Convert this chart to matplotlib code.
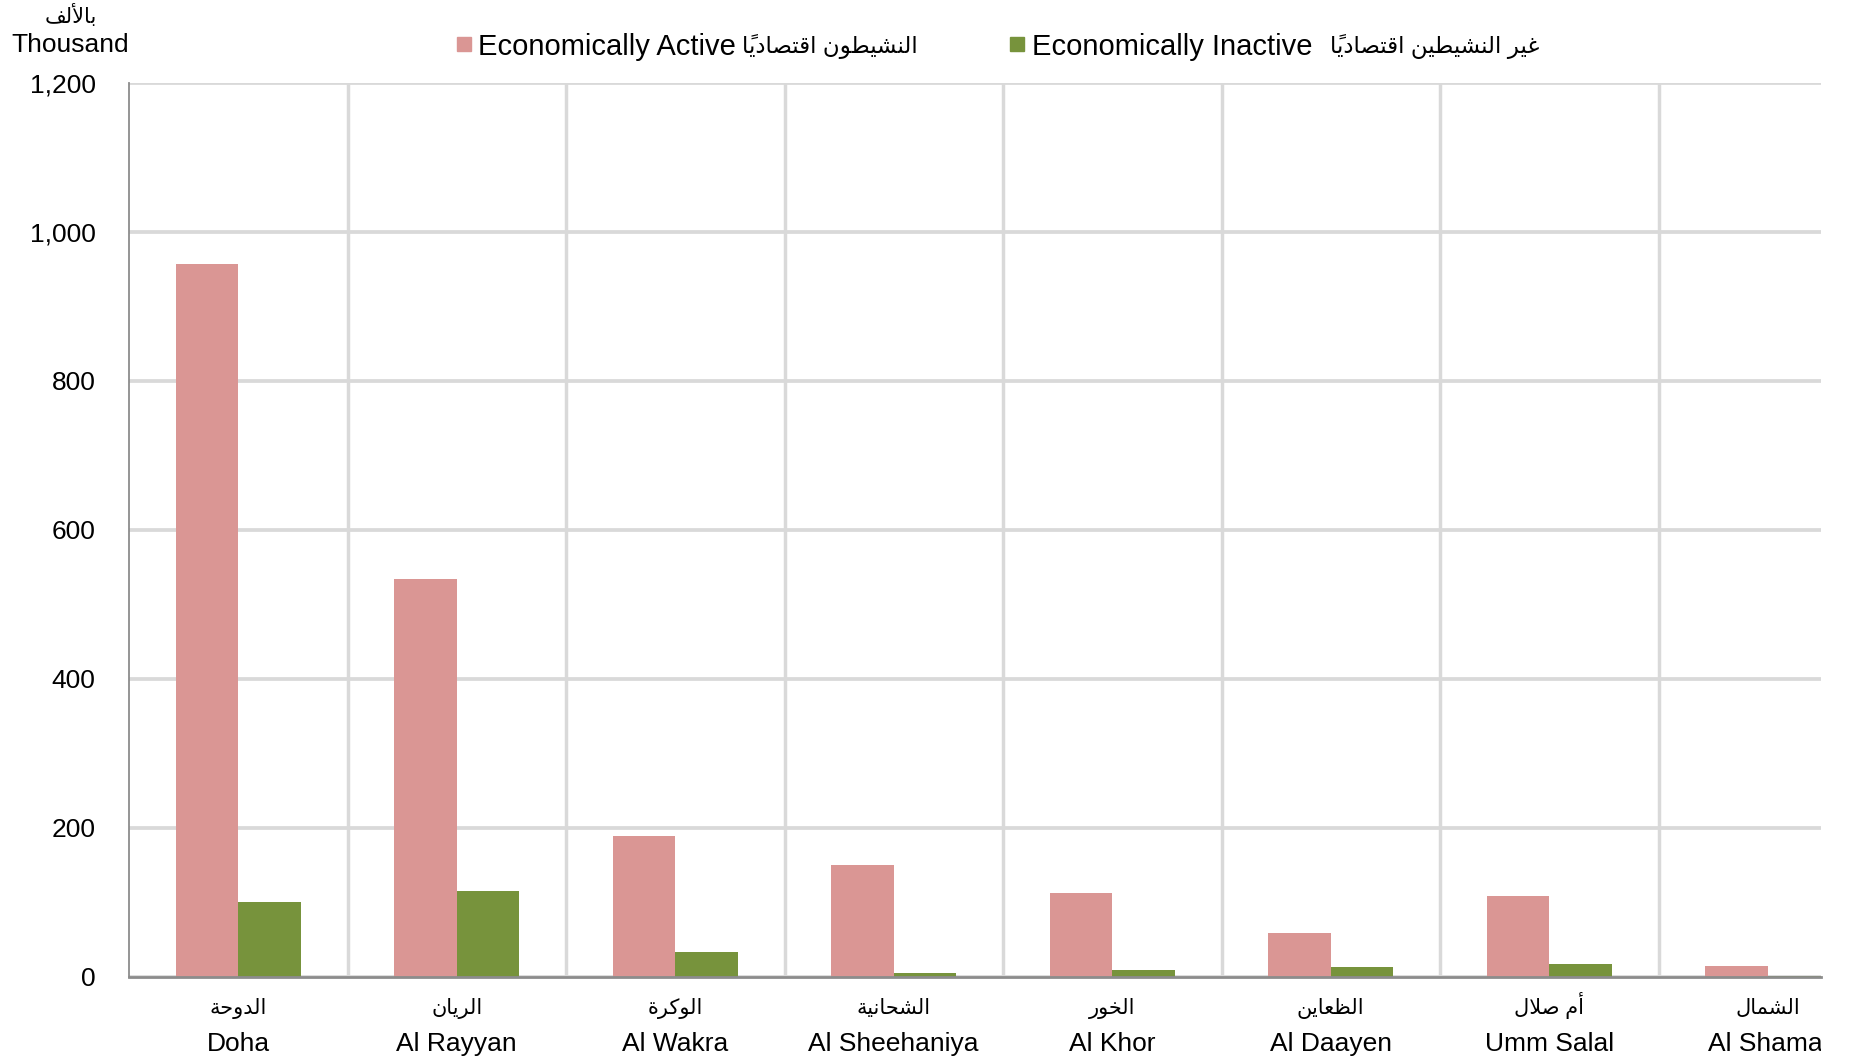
import matplotlib
matplotlib.use("Agg")
import matplotlib.pyplot as plt
from matplotlib.patches import Rectangle
from matplotlib.transforms import Bbox, TransformedBbox
import numpy as np

plt.rcParams['font.family'] = ['Liberation Sans', 'DejaVu Sans']

# ---------------- data ----------------
cat_en = ["Doha", "Al Rayyan", "Al Wakra", "Al Sheehaniya", "Al Khor",
          "Al Daayen", "Umm Salal", "Al Shamal"]
cat_ar = ["الدوحة", "الريان", "الوكرة", "الشحانية", "الخور",
          "الظعاين", "أم صلال", "الشمال"]
active = [957, 534, 189, 150, 113, 59, 109, 15]
inactive = [101, 116, 33, 5, 10, 14, 17, 2]
yticks = [0, 200, 400, 600, 800, 1000, 1200]
ytick_labels = ["0", "200", "400", "600", "800", "1,000", "1,200"]
legend_en = ["Economically Active", "Economically Inactive"]
legend_ar = ["النشيطون اقتصادياً", "غير النشيطين اقتصادياً"]
unit_en = "Thousand"
unit_ar = "بالألف"

# ---------------- minimal Arabic shaping (presentation forms) ----------------
FORMS = {
    'ا': ('\uFE8D', '\uFE8E', None, None),
    'أ': ('\uFE83', '\uFE84', None, None),
    'ب': ('\uFE8F', '\uFE90', '\uFE91', '\uFE92'),
    'ة': ('\uFE93', '\uFE94', None, None),
    'ت': ('\uFE95', '\uFE96', '\uFE97', '\uFE98'),
    'ح': ('\uFEA1', '\uFEA2', '\uFEA3', '\uFEA4'),
    'خ': ('\uFEA5', '\uFEA6', '\uFEA7', '\uFEA8'),
    'د': ('\uFEA9', '\uFEAA', None, None),
    'ر': ('\uFEAD', '\uFEAE', None, None),
    'ش': ('\uFEB5', '\uFEB6', '\uFEB7', '\uFEB8'),
    'ص': ('\uFEB9', '\uFEBA', '\uFEBB', '\uFEBC'),
    'ط': ('\uFEC1', '\uFEC2', '\uFEC3', '\uFEC4'),
    'ظ': ('\uFEC5', '\uFEC6', '\uFEC7', '\uFEC8'),
    'ع': ('\uFEC9', '\uFECA', '\uFECB', '\uFECC'),
    'غ': ('\uFECD', '\uFECE', '\uFECF', '\uFED0'),
    'ف': ('\uFED1', '\uFED2', '\uFED3', '\uFED4'),
    'ق': ('\uFED5', '\uFED6', '\uFED7', '\uFED8'),
    'ك': ('\uFED9', '\uFEDA', '\uFEDB', '\uFEDC'),
    'ل': ('\uFEDD', '\uFEDE', '\uFEDF', '\uFEE0'),
    'م': ('\uFEE1', '\uFEE2', '\uFEE3', '\uFEE4'),
    'ن': ('\uFEE5', '\uFEE6', '\uFEE7', '\uFEE8'),
    'و': ('\uFEED', '\uFEEE', None, None),
    'ي': ('\uFEF1', '\uFEF2', '\uFEF3', '\uFEF4'),
    'لا': ('\uFEFB', '\uFEFC', None, None),
    'لأ': ('\uFEF7', '\uFEF8', None, None),
}
MARKS = set('\u064B\u064C\u064D\u064E\u064F\u0650\u0651\u0652')


def shape(s):
    clusters = []
    i = 0
    while i < len(s):
        c = s[i]
        if c in MARKS and clusters:
            clusters[-1][1] += c
            i += 1
            continue
        if c == 'ل' and i + 1 < len(s) and s[i + 1] in 'اأ':
            clusters.append([c + s[i + 1], ''])
            i += 2
            continue
        clusters.append([c, ''])
        i += 1
    out = []
    n = len(clusters)
    for k, (b, m) in enumerate(clusters):
        f = FORMS.get(b)
        if f is None:
            out.append(b + m)
            continue
        prev = clusters[k - 1][0] if k > 0 else None
        nxt = clusters[k + 1][0] if k + 1 < n else None
        jp = prev is not None and prev in FORMS and FORMS[prev][2] is not None
        jn = f[2] is not None and nxt is not None and nxt in FORMS
        if jp and jn:
            g = f[3]
        elif jp:
            g = f[1]
        elif jn:
            g = f[2]
        else:
            g = f[0]
        out.append(g + m)
    return ''.join(reversed(out))


# ---------------- figure ----------------
W, H = 1852, 1056
fig = plt.figure(figsize=(W / 100, H / 100), dpi=100)
left, right, bottom, top = 129, 1821, 977, 82.7
cat_px = 218.5  # width of one category in pixels
ax = fig.add_axes([left / W, 1 - bottom / H, (right - left) / W, (bottom - top) / H])

c_act = "#DA9694"
c_inact = "#77933C"
grid_c = "#D9D9D9"

x = np.arange(len(cat_en))
w = 0.286
ax.bar(x - w / 2, active, width=w, color=c_act, zorder=3)
ax.bar(x + w / 2, inactive, width=w, color=c_inact, zorder=3)

ax.set_yticks(yticks, labels=ytick_labels, fontsize=19)
ax.tick_params(axis='y', length=0, pad=24)
ax.set_xticks(x, labels=[""] * len(x))
ax.set_xticks(x + 0.5, minor=True)
ax.tick_params(axis='x', which='both', length=0)
ax.set_xlim(-0.5, -0.5 + (right - left) / cat_px)
ax.set_ylim(0, 1200)
ax.grid(axis='y', which='major', color=grid_c, lw=2.7, zorder=0)
ax.grid(axis='x', which='minor', color=grid_c, lw=2.5, zorder=0)
ax.grid(axis='x', which='major', visible=False)

for s in ['top', 'right']:
    ax.spines[s].set_visible(False)
ax.spines['left'].set_color('#8C8C8C')
ax.spines['left'].set_linewidth(1.3)
ax.spines['bottom'].set_color('#8C8C8C')
ax.spines['bottom'].set_linewidth(2.0)
ax.spines['bottom'].set_zorder(4)

# clip region = visible chart area (chart is cut at the right edge)
clip = TransformedBbox(Bbox([[0, 0], [right / W, 1]]), fig.transFigure)

# x labels (Arabic above English), baseline aligned
trans = ax.get_xaxis_transform()
ax_h = bottom - top
for i in x:
    t1 = ax.text(i, -(1014 - bottom) / ax_h, shape(cat_ar[i]), transform=trans,
                 ha='center', va='baseline', fontsize=15)
    t2 = ax.text(i, -(1051 - bottom) / ax_h, cat_en[i], transform=trans,
                 ha='center', va='baseline', fontsize=19)
    for t in (t1, t2):
        t.set_clip_on(True)
        t.set_clip_box(clip)

# unit labels
fig.text(71 / W, 1 - 15 / H, shape(unit_ar), ha='center', va='center', fontsize=15)
fig.text(70 / W, 1 - 45 / H, unit_en, ha='center', va='center', fontsize=19)

# legend (drawn manually: square, English, Arabic)
leg_y = 1 - 44 / H
sq = 14
leg_items = [
    (c_act, 457, 478, 918),
    (c_inact, 1010, 1032, 1539),
]
for k, (col, sx, ex, ar_end) in enumerate(leg_items):
    fig.patches.append(Rectangle((sx / W, leg_y - sq / 2 / H), sq / W, sq / H,
                                 transform=fig.transFigure, color=col))
    fig.text(ex / W, leg_y, legend_en[k], ha='left', va='center_baseline', fontsize=21)
    fig.text(ar_end / W, leg_y, shape(legend_ar[k]), ha='right',
             va='center_baseline', fontsize=16.5)

fig.savefig("out.png", dpi=100)
